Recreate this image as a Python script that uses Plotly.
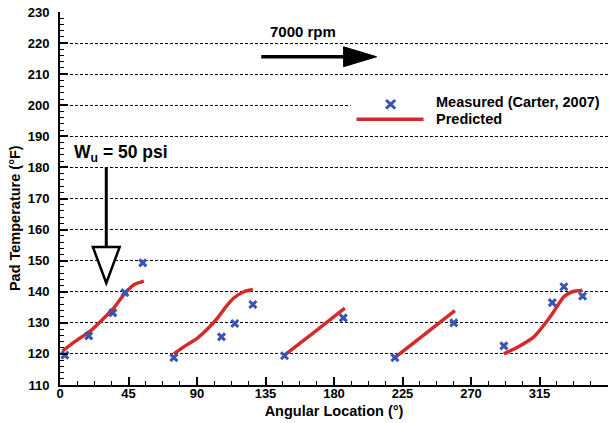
import plotly.graph_objects as go

# Measured pad temperatures (Carter, 2007), grouped by pad
meas_angle = [3.2, 18.9, 34.7, 42.6, 54.4,
              74.8, 106.1, 114.8, 126.7,
              147.5, 186.1,
              220.0, 258.7,
              291.6, 323.4, 331.0, 343.3]
meas_temp = [119.6, 125.8, 133.2, 139.7, 149.3,
             118.8, 125.5, 129.8, 135.9,
             119.4, 131.6,
             118.8, 130.0,
             122.6, 136.5, 141.6, 138.6]

# Predicted temperature profiles along each pad
pad1_angle = [1.6, 10.2, 20.0, 29.0, 34.5, 42.4, 48.3, 55.1]
pad1_temp = [120.9, 124.1, 127.4, 131.6, 134.3, 139.3, 142.2, 143.4]
pad2_angle = [74.8, 82.0, 90.1, 96.7, 103.3, 108.7, 114.2, 120.8, 126.7]
pad2_temp = [120.0, 122.5, 125.0, 127.9, 131.4, 135.0, 138.0, 140.0, 140.7]
pad3_angle = [147.5, 167.3, 187.1]
pad3_temp = [119.6, 127.1, 134.7]
pad4_angle = [219.3, 239.3, 259.4]
pad4_temp = [118.6, 126.2, 133.9]
pad5_angle = [291.6, 301.4, 311.3, 321.2, 326.2, 331.0, 336.5, 343.1]
pad5_temp = [120.0, 122.4, 125.5, 131.4, 135.0, 138.4, 140.0, 140.5]

x_ticks = [0, 45, 90, 135, 180, 225, 270, 315, 360]
y_ticks = list(range(110, 231, 10))

BLUE = "#3a55b0"
RED = "#d52a2a"
FONT = "Liberation Sans, Arial, sans-serif"

fig = go.Figure()

pads = [(pad1_angle, pad1_temp), (pad2_angle, pad2_temp), (pad3_angle, pad3_temp),
        (pad4_angle, pad4_temp), (pad5_angle, pad5_temp)]
for a, t in pads:
    fig.add_trace(go.Scatter(
        x=a, y=t, mode="lines", name="Predicted",
        line=dict(color=RED, width=3.5, shape="spline", smoothing=0.6),
        showlegend=False, hoverinfo="skip"))

fig.add_trace(go.Scatter(
    x=meas_angle, y=meas_temp, mode="markers", name="Measured (Carter, 2007)",
    marker=dict(symbol="x-thin", size=7, line=dict(color=BLUE, width=3)),
    showlegend=False))

shapes = []
# white backing behind the key
shapes.append(dict(type="rect", xref="x", yref="y", x0=190.9, x1=362, y0=192.6, y1=204.2,
                   fillcolor="white", line=dict(width=0), layer="above"))
# key: predicted line
shapes.append(dict(type="line", xref="x", yref="y", x0=194.8, x1=238.8, y0=195.5, y1=195.5,
                   line=dict(color=RED, width=3.5)))
# key: measured cross
kx, ky, dx, dy = 217.2, 200.3, 3.0, 1.4
shapes.append(dict(type="path", xref="x", yref="y",
                   path=f"M{kx-dx},{ky-dy} L{kx+dx},{ky+dy} M{kx-dx},{ky+dy} L{kx+dx},{ky-dy}",
                   line=dict(color=BLUE, width=3)))
# rotation direction arrow
shapes.append(dict(type="line", xref="x", yref="y", x0=132.2, x1=187.0, y0=215.6, y1=215.6,
                   line=dict(color="black", width=3.5)))
shapes.append(dict(type="path", xref="x", yref="y",
                   path="M186.3,218.8 L208,215.6 L186.3,212.4 Z",
                   fillcolor="black", line=dict(color="black", width=1)))
# load direction arrow
shapes.append(dict(type="line", xref="x", yref="y", x0=30.4, x1=30.4, y0=180.1, y1=154.4,
                   line=dict(color="black", width=3)))
shapes.append(dict(type="path", xref="x", yref="y",
                   path="M21.6,154.4 L39.2,154.4 L30.4,142.8 Z",
                   fillcolor="white", line=dict(color="black", width=2.5)))

annotations = [
    dict(x=159.8, y=223.8, xref="x", yref="y", text="<b>7000 rpm</b>", showarrow=False,
         font=dict(family=FONT, size=15, color="black")),
    dict(x=8.0, y=184.6, xref="x", yref="y", xanchor="left",
         text="<b>W<sub>u</sub> = 50 psi</b>", showarrow=False,
         font=dict(family=FONT, size=17.5, color="black")),
    dict(x=245.4, y=201.0, xref="x", yref="y", xanchor="left",
         text="<b>Measured (Carter, 2007)</b>", showarrow=False,
         font=dict(family=FONT, size=14.5, color="black")),
    dict(x=245.4, y=195.5, xref="x", yref="y", xanchor="left",
         text="<b>Predicted</b>", showarrow=False,
         font=dict(family=FONT, size=14.5, color="black")),
    dict(x=-0.1, y=0.448, xref="paper", yref="paper", textangle=-90,
         text="<b>Pad Temperature (°F)</b>", showarrow=False,
         font=dict(family=FONT, size=14.5, color="black")),
]

fig.update_layout(
    width=616, height=423,
    margin=dict(l=59.5, r=8, t=12, b=38, autoexpand=False),
    paper_bgcolor="white", plot_bgcolor="white",
    showlegend=False,
    font=dict(family=FONT, color="black"),
    shapes=shapes, annotations=annotations,
)
fig.update_xaxes(
    range=[0, 360], tickvals=x_ticks, ticktext=[str(v) for v in x_ticks],
    ticks="inside", ticklen=8, tickwidth=1.5, tickcolor="black",
    minor=dict(dtick=11.25, ticks="inside", ticklen=4, tickwidth=1.2, tickcolor="black", showgrid=False),
    showline=True, linecolor="black", linewidth=2, showgrid=False, zeroline=False,
    automargin=False, ticklabelstandoff=-5,
    tickfont=dict(family=FONT, size=13, color="black", weight="bold"),
    title=dict(text="<b>Angular Location (°)</b>", standoff=6,
               font=dict(family=FONT, size=14.5, color="black")),
)
fig.update_yaxes(
    range=[110, 230], tickvals=y_ticks, ticktext=[str(v) for v in y_ticks],
    ticks="inside", ticklen=8, tickwidth=1.5, tickcolor="black",
    minor=dict(dtick=2, ticks="inside", ticklen=4, tickwidth=1.2, tickcolor="black", showgrid=False),
    showline=True, linecolor="black", linewidth=2, zeroline=False,
    automargin=False, ticklabelstandoff=6,
    showgrid=True, gridcolor="black", gridwidth=1, griddash="3px,2px",
    tickfont=dict(family=FONT, size=13, color="black", weight="bold"),
)

fig.write_html("out.html")
